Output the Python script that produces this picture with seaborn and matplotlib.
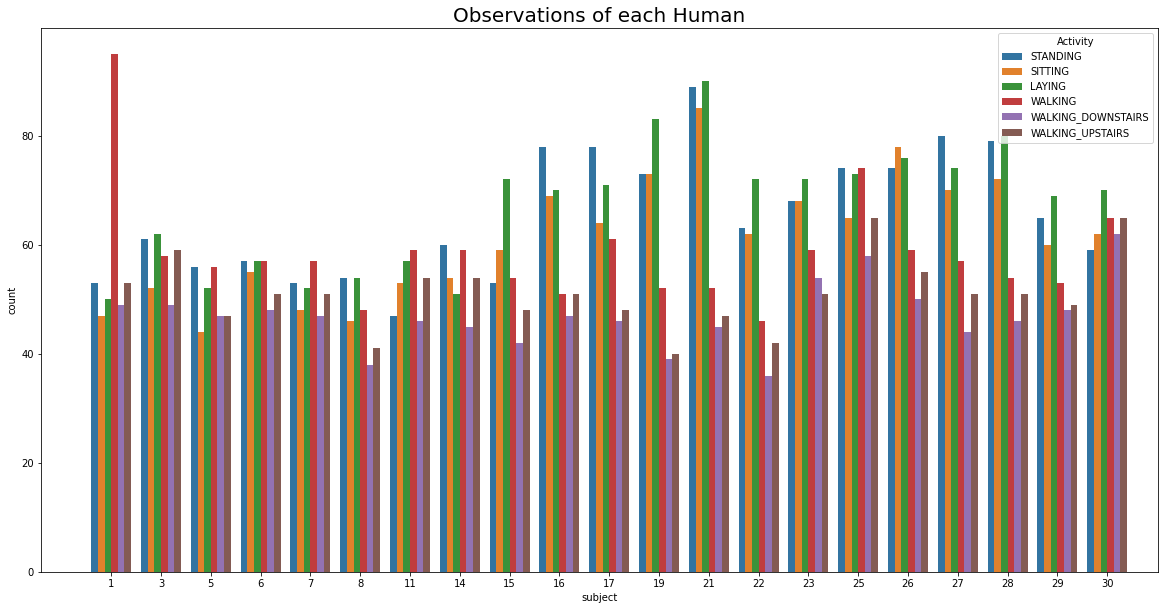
import matplotlib
matplotlib.use("Agg")
import matplotlib.pyplot as plt
import seaborn as sns
import pandas as pd

subjects = [1, 3, 5, 6, 7, 8, 11, 14, 15, 16, 17, 19, 21, 22, 23, 25, 26, 27, 28, 29, 30]
activities = ["STANDING", "SITTING", "LAYING", "WALKING",
              "WALKING_DOWNSTAIRS", "WALKING_UPSTAIRS"]

standing = [53, 61, 56, 57, 53, 54, 47, 60, 53, 78, 78, 73, 89, 63, 68, 74, 74, 80, 79, 65, 59]
sitting = [47, 52, 44, 55, 48, 46, 53, 54, 59, 69, 64, 73, 85, 62, 68, 65, 78, 70, 72, 60, 62]
laying = [50, 62, 52, 57, 52, 54, 57, 51, 72, 70, 71, 83, 90, 72, 72, 73, 76, 74, 80, 69, 70]
walking = [95, 58, 56, 57, 57, 48, 59, 59, 54, 51, 61, 52, 52, 46, 59, 74, 59, 57, 54, 53, 65]
walking_down = [49, 49, 47, 48, 47, 38, 46, 45, 42, 47, 46, 39, 45, 36, 54, 58, 50, 44, 46, 48, 62]
walking_up = [53, 59, 47, 51, 51, 41, 54, 54, 48, 51, 48, 40, 47, 42, 51, 65, 55, 51, 51, 49, 65]

series = [standing, sitting, laying, walking, walking_down, walking_up]
rows = []
for act, vals in zip(activities, series):
    for s, v in zip(subjects, vals):
        rows.append({"subject": str(s), "Activity": act, "count": v})
df = pd.DataFrame(rows)

fig = plt.figure(figsize=(1164 / 72, 610 / 72), dpi=72)
ax = fig.add_axes([41 / 1164, 38 / 610, 1117 / 1164, 544 / 610])

sns.barplot(data=df, x="subject", y="count", hue="Activity",
            order=[str(s) for s in subjects], hue_order=activities,
            saturation=0.75, ax=ax)

ax.set_xlim(-1.41, 21.02)
ax.set_ylim(0, 99.75)
ax.set_title("Observations of each Human", fontsize=20)
ax.set_xlabel("subject")
ax.set_ylabel("count")
ax.legend(title="Activity", loc="upper right")

fig.savefig("out.png", dpi=72)
